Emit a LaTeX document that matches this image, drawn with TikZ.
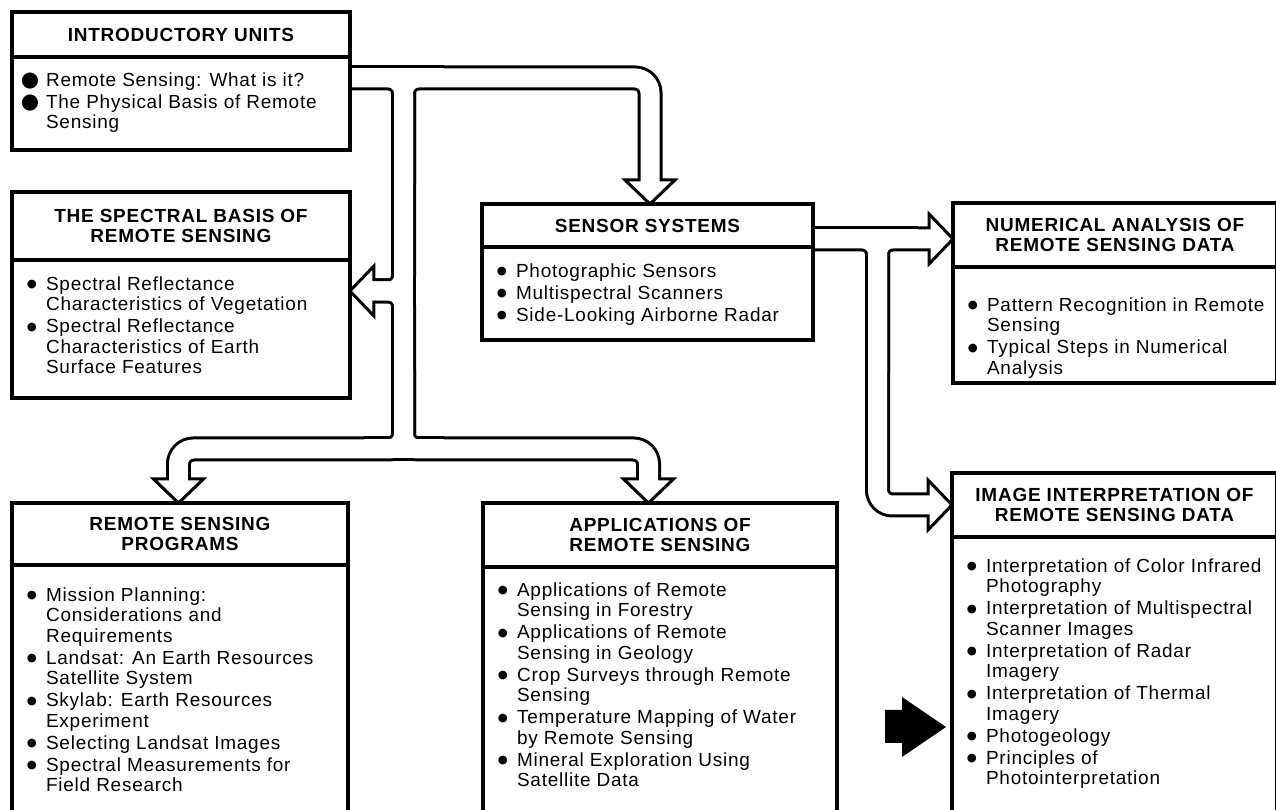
\documentclass[tikz,border=0pt]{standalone}
\usepackage{fontspec}
\setmainfont{Liberation Sans}[LetterSpace=4]
\newfontfamily\symfont{DejaVu Sans}
\usetikzlibrary{calc,positioning,backgrounds}

\tikzset{
  unit/.style={draw, line width=0.08cm, fill=white, inner sep=0pt, outer sep=0pt},
  unithead/.style={unit, align=center, font=\fontsize{10.8}{11.4}\selectfont\bfseries},
  unititems/.style={unit, font=\fontsize{10.8}{11.7}\selectfont},
  pics/head/.style={code={\draw[fill=white, line width=0.06cm] (0,0) -- (-24,-25) -- (-24,25) -- cycle;}}
}

\newlength\bulw
\setlength\bulw{11.4pt}
\newcommand\bul[1]{\par\noindent\hangindent=\bulw\hangafter=1\makebox[\bulw][l]{\hspace*{0.5pt}\raisebox{1.3pt}{\symfont\fontsize{6.5}{6.5}\selectfont ●}}#1\par}
\newcommand\bigbul[1]{\par\noindent\hangindent=\bulw\hangafter=1\makebox[\bulw][l]{\hspace*{-3pt}{\symfont\fontsize{12}{12}\selectfont ●}}#1\par}
\newcommand\entries[4]{\parbox[t][#1][t]{#2}{\leftskip=8pt\parskip=0.8pt\vspace*{#3}#4}}

% the hollow pipes, drawn twice: black, then white
\def\pipenet{%
  \draw (intro-items.east |- ja) -- (ja) -- (jc) -- ($(tip-spectral)+(20,0)$);
  \draw ($(ja)!.5!(jc)$) -- (ja) -- (jb) -- ($(tip-sensor)+(0,-20)$);
  \draw (intro-items.east |- ja) -- ($(ja)+(40,0)$);
  \draw ($(jc)!.5!(jd)$) -- (jc) -- ($(tip-spectral)+(20,0)$);
  \draw ($(jc)+(0,-40)$) -- ($(jc)+(0,40)$);
  \draw ($(jc)!.5!(jd)$) -- (jd) -- (je) -- ($(tip-programs)+(0,-20)$);
  \draw ($(jc)!.5!(jd)$) -- (jd) -- (jf) -- ($(tip-apps)+(0,-20)$);
  \draw ($(jd)+(-40,0)$) -- ($(jd)+(40,0)$);
  \draw (sensor.east |- jg) -- (jg) -- (jh) -- ($(tip-image)+(-20,0)$);
  \draw ($(jg)!.5!(jh)$) -- (jg) -- ($(tip-numerical)+(-20,0)$);
  \draw (sensor.east |- jg) -- ($(jg)+(40,0)$);
}

\begin{document}
\begin{tikzpicture}[x=0.02cm, y=-0.02cm]
\useasboundingbox (0,0) rectangle (1276,810);

%%% units
\node[unithead, minimum width=6.76cm, minimum height=0.9cm, anchor=north west] (intro) at (12,12) {INTRODUCTORY UNITS};
\node[unititems, below=0pt of intro] (intro-items) {\entries{1.86cm}{6.76cm}{0.28cm}{%
  \bigbul{Remote Sensing: What is it?}%
  \bigbul{The Physical Basis of Remote\\Sensing}}};

\node[unithead, minimum width=6.76cm, minimum height=1.36cm, anchor=north west] (spectral) at (12,192) {THE SPECTRAL BASIS OF\\REMOTE SENSING};
\node[unititems, below=0pt of spectral] (spectral-items) {\entries{2.76cm}{6.76cm}{0.3cm}{%
  \bul{Spectral Reflectance\\Characteristics of Vegetation}%
  \bul{Spectral Reflectance\\Characteristics of Earth\\Surface Features}}};

\node[unithead, minimum width=6.62cm, minimum height=0.86cm, anchor=north west] (sensor) at (482,204) {SENSOR SYSTEMS};
\node[unititems, below=0pt of sensor] (sensor-items) {\entries{1.86cm}{6.62cm}{0.3cm}{%
  \bul{Photographic Sensors}%
  \bul{Multispectral Scanners}%
  \bul{Side-Looking Airborne Radar}}};

\node[unithead, minimum width=6.48cm, minimum height=1.28cm, anchor=north west] (numerical) at (953,203) {NUMERICAL ANALYSIS OF\\REMOTE SENSING DATA};
\node[unititems, below=0pt of numerical] (numerical-items) {\entries{2.32cm}{6.48cm}{0.58cm}{%
  \bul{Pattern Recognition in Remote\\Sensing}%
  \bul{Typical Steps in Numerical\\Analysis}}};

\node[unithead, minimum width=6.5cm, minimum height=1.28cm, anchor=north west] (image) at (952,473) {IMAGE INTERPRETATION OF\\REMOTE SENSING DATA};
\node[unititems, below=0pt of image] (image-items) {\entries{5.86cm}{6.5cm}{0.4cm}{%
  \bul{Interpretation of Color Infrared\\Photography}%
  \bul{Interpretation of Multispectral\\Scanner Images}%
  \bul{Interpretation of Radar\\Imagery}%
  \bul{Interpretation of Thermal\\Imagery}%
  \bul{Photogeology}%
  \bul{Principles of\\Photointerpretation}}};

\node[unithead, minimum width=6.72cm, minimum height=1.24cm, anchor=north west] (programs) at (12,503) {REMOTE SENSING\\PROGRAMS};
\node[unititems, below=0pt of programs] (programs-items) {\entries{5.3cm}{6.72cm}{0.42cm}{%
  \bul{Mission Planning:\\Considerations and\\Requirements}%
  \bul{Landsat: An Earth Resources\\Satellite System}%
  \bul{Skylab: Earth Resources\\Experiment}%
  \bul{Selecting Landsat Images}%
  \bul{Spectral Measurements for\\Field Research}}};

\node[unithead, minimum width=7.08cm, minimum height=1.28cm, anchor=north west] (applications) at (483,503) {APPLICATIONS OF\\REMOTE SENSING};
\node[unititems, below=0pt of applications] (applications-items) {\entries{5.26cm}{7.08cm}{0.28cm}{%
  \bul{Applications of Remote\\Sensing in Forestry}%
  \bul{Applications of Remote\\Sensing in Geology}%
  \bul{Crop Surveys through Remote\\Sensing}%
  \bul{Temperature Mapping of Water\\by Remote Sensing}%
  \bul{Mineral Exploration Using\\Satellite Data}}};

%%% pipe bends
\coordinate (ja) at (403.5,78);
\coordinate (jb) at (650,78);
\coordinate (jc) at (403.5,291);
\coordinate (jd) at (403.5,449);
\coordinate (je) at (178.5,449);
\coordinate (jf) at (648.5,449);
\coordinate (jg) at (877.5,239);
\coordinate (jh) at (877.5,505);

\coordinate (tip-sensor) at (jb |- sensor.north);
\coordinate (tip-spectral) at (spectral-items.east |- jc);
\coordinate (tip-programs) at (je |- programs.north);
\coordinate (tip-apps) at (jf |- applications.north);
\coordinate (tip-numerical) at (numerical.west |- jg);
\coordinate (tip-image) at (image.west |- jh);

\begin{scope}[on background layer]
  \begin{scope}[line width=0.5cm, rounded corners=0.3cm] \pipenet \end{scope}
  \pic[rotate=-90] at (tip-sensor) {head};
  \pic[rotate=180] at (tip-spectral) {head};
  \pic[rotate=-90] at (tip-programs) {head};
  \pic[rotate=-90] at (tip-apps) {head};
  \pic at (tip-numerical) {head};
  \pic at (tip-image) {head};
  \begin{scope}[line width=0.38cm, rounded corners=0.3cm, white] \pipenet \end{scope}
\end{scope}

% solid pointer
\fill (885,710) -- (902,710) -- (902,697) -- (946,727) -- (902,757) -- (902,743) -- (885,743) -- cycle;
\end{tikzpicture}
\end{document}
